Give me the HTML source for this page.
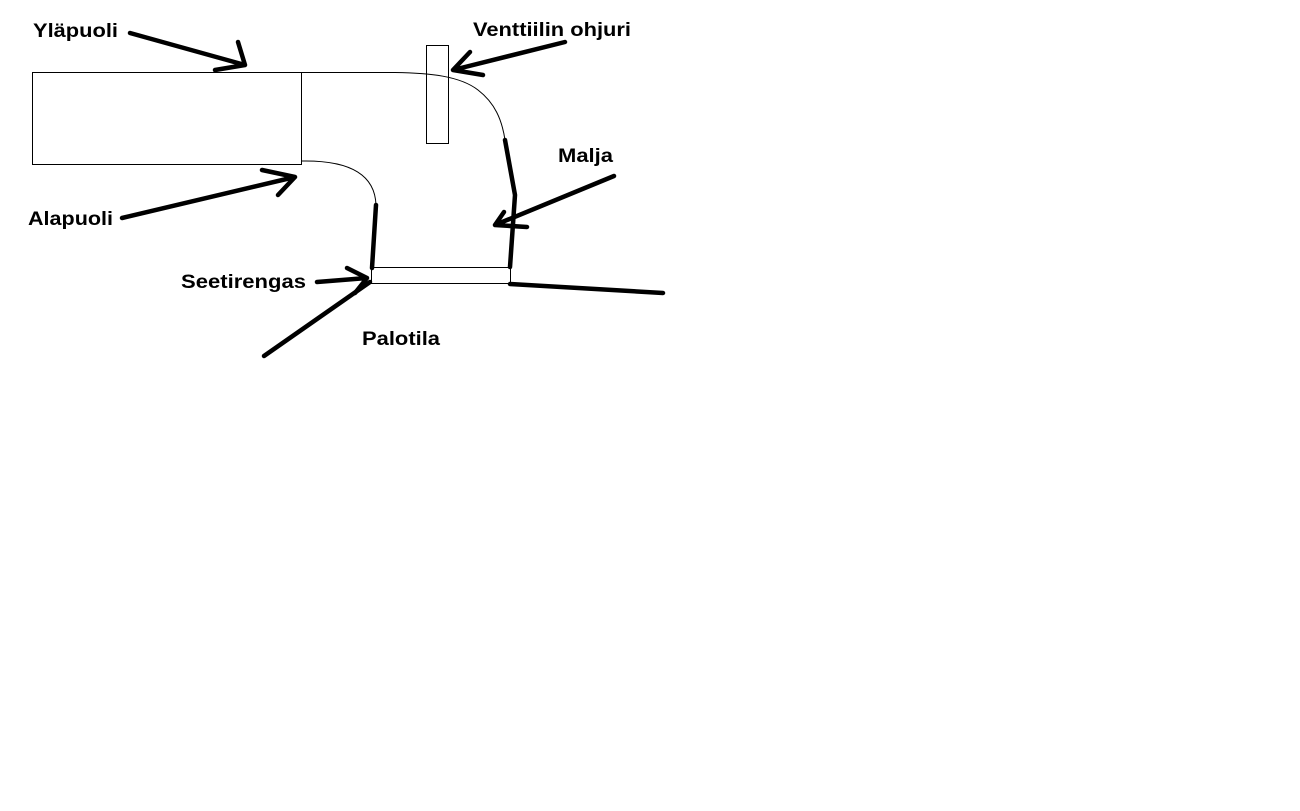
<!DOCTYPE html>
<html><head><meta charset="utf-8"><style>
html,body{margin:0;padding:0;background:#fff;}
svg{display:block}
text{font-family:"Liberation Sans",Arial,sans-serif;font-weight:bold;font-size:19px;fill:#000}
</style></head><body>
<svg width="1300" height="811" viewBox="0 0 1300 811" xmlns="http://www.w3.org/2000/svg">
<rect width="1300" height="811" fill="#fff"/>
<g fill="none" stroke="#000" stroke-width="1">
<rect x="32.5" y="72.5" width="269" height="92"/>
<path d="M301 72.5 L395 72.5 C430 73 460 76 478 90 C495 103 502 120 505 140"/>
<rect x="426.5" y="45.5" width="22" height="98"/>
<path d="M301 161 C350 160 375 175 376 205"/>
<rect x="371.5" y="267.5" width="139" height="16"/>
</g>
<g fill="none" stroke="#000" stroke-width="4.5" stroke-linecap="round" stroke-linejoin="round">
<path d="M505 140 L515 195 L510 267"/>
<path d="M376 205 L372 268"/>
<path d="M510 284 L663 293"/>
<path d="M264 356 L370 282"/>
<path d="M130 33 L245 65 M238 42 L245 65 L215 70"/>
<path d="M565 42 L453 70 M470 52 L453 70 L483 75"/>
<path d="M122 218 L295 177 M262 170 L295 177 L278 195"/>
<path d="M614 176 L495 225 M504 212 L495 225 L527 227"/>
<path d="M317 282 L367 278 M347 268 L367 278 L355 293"/>
</g>
<text x="33" y="37" textLength="85" lengthAdjust="spacingAndGlyphs">Yläpuoli</text>
<text x="473" y="36" textLength="158" lengthAdjust="spacingAndGlyphs">Venttiilin ohjuri</text>
<text x="558" y="162" textLength="55" lengthAdjust="spacingAndGlyphs">Malja</text>
<text x="28" y="225" textLength="85" lengthAdjust="spacingAndGlyphs">Alapuoli</text>
<text x="181" y="288" textLength="125" lengthAdjust="spacingAndGlyphs">Seetirengas</text>
<text x="362" y="345" textLength="78" lengthAdjust="spacingAndGlyphs">Palotila</text>
</svg>
</body></html>
